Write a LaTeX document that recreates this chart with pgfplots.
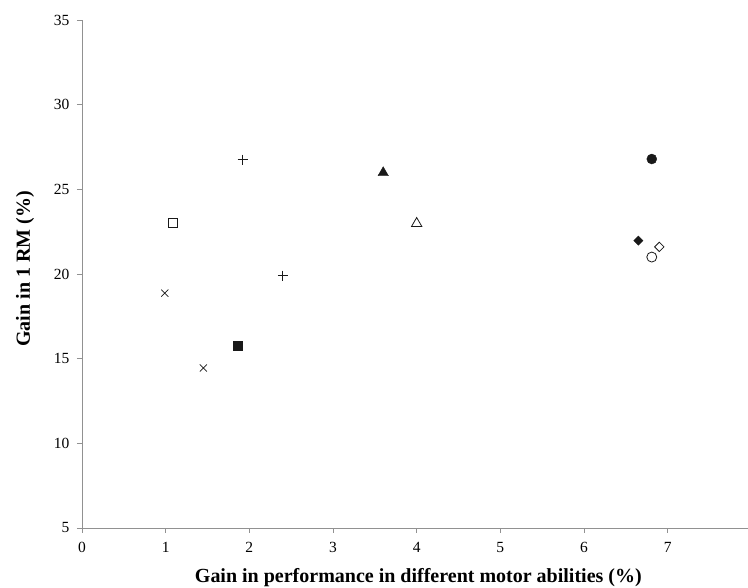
\documentclass[border=0pt]{standalone}
\usepackage{pgfplots}
\pgfplotsset{compat=1.18}
\usepackage{fontspec}
\setmainfont{Liberation Serif}
\definecolor{axgray}{RGB}{145,145,145}
\definecolor{mk}{RGB}{25,25,25}
\begin{document}
\begin{tikzpicture}[x=1pt,y=1pt]
\begin{axis}[
  at={(0,0)}, anchor=south west,
  scale only axis, width=666pt, height=508pt,
  xmin=0, xmax=7.96, ymin=5, ymax=35,
  axis lines*=left,
  axis line style={axgray, line width=0.8pt},
  xtick={0,1,...,7}, ytick={5,10,...,35},
  tick style={axgray, line width=0.8pt},
  tick align=outside, major tick length=5pt,
  /pgf/number format/assume math mode=true,
  tick label style={font=\fontsize{15.5}{18}\selectfont, text=black},
  xticklabel style={yshift=-6pt},
  yticklabel style={xshift=-4pt},
  xlabel={Gain in performance in different motor abilities (\%)},
  ylabel={Gain in 1 RM (\%)},
  label style={font=\fontsize{20}{24}\selectfont\bfseries},
  xlabel style={at={(axis description cs:0.505,0)}, anchor=center, yshift=-50pt},
  ylabel style={at={(axis description cs:-0.0856,0.51)}, anchor=center},
  clip=false,
]
\addplot[only marks, mark=+, mark size=5pt, mk, line width=0.7pt] coordinates {(1.92,26.75) (2.40,19.9)};
\addplot[only marks, mark=x, mark size=5pt, mk, line width=0.7pt] coordinates {(0.99,18.87) (1.45,14.45)};
\addplot[only marks, mark=square*, mark size=4.5pt, mk] coordinates {(1.86,15.78)};
\addplot[only marks, mark=square, mark size=4.5pt, mk, line width=0.8pt] coordinates {(1.09,23.0)};
\addplot[only marks, mark=triangle*, mark size=6pt, mk] coordinates {(3.60,25.98)};
\addplot[only marks, mark=triangle, mark size=6pt, mk, line width=0.8pt] coordinates {(4.00,22.98)};
\addplot[only marks, mark=*, mark size=5pt, mk] coordinates {(6.81,26.79)};
\addplot[only marks, mark=o, mark size=5pt, mk, line width=0.8pt] coordinates {(6.81,21.0)};
\addplot[only marks, mark=square*, mark size=3.3pt, mark options={rotate=45}, mk] coordinates {(6.65,21.97)};
\addplot[only marks, mark=square, mark size=3.3pt, mark options={rotate=45}, mk, line width=0.8pt] coordinates {(6.90,21.6)};
\end{axis}
\pgfresetboundingbox
\path[use as bounding box] (-82,-60) rectangle (666,528);
\end{tikzpicture}
\end{document}
